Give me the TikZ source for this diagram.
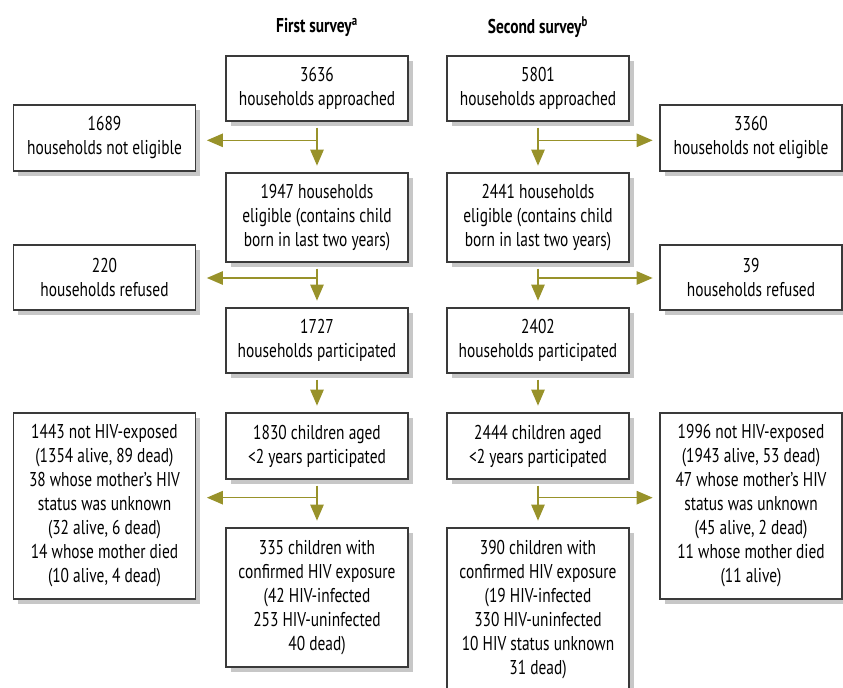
\documentclass[tikz,border=0pt]{standalone}
\usepackage{fontspec}
\setmainfont{PT Sans}[FakeStretch=0.77]
\usepackage{tikz}
\usetikzlibrary{arrows.meta,shadows}
\usepackage{xcolor}
\definecolor{olive}{RGB}{152,146,42}
\definecolor{boxline}{RGB}{58,58,58}

\begin{document}
\begin{tikzpicture}[x=0.75pt,y=-0.75pt,
  box/.style={draw=boxline,line width=1pt,fill=white,align=center,inner sep=2pt,
    minimum width=136.5pt,font=\fontsize{15}{18}\selectfont,
    drop shadow={shadow xshift=3.5pt,shadow yshift=-3.5pt,fill=black!22,opacity=1}},
  down/.style={draw=olive,line width=1.2pt,-{Triangle[length=12pt,width=10pt]},shorten <=4.5pt,shorten >=5pt},
  side/.style={draw=olive,line width=1.2pt,-{Triangle[length=12pt,width=10pt]}},
  head/.style={font=\bfseries\fontsize{15}{16}\selectfont}]
\useasboundingbox (0,0) rectangle (843,688);
% headers
\node[head] (h1) at (317,27) {First survey\textsuperscript{a}};
\node[head] (h2) at (538,27) {Second survey\textsuperscript{b}};
% first survey
\node[box,minimum height=48.75pt] (A1) at (317,88.5) {3636\\households approached};
\node[box,minimum height=49.5pt] (N1) at (104.5,138) {1689\\households not eligible};
\node[box,minimum height=66.75pt] (B1) at (317,217.5) {1947 households\\eligible (contains child\\born in last two years)};
\node[box,minimum height=48.75pt] (R1) at (104.5,277.5) {220\\households refused};
\node[box,minimum height=48.75pt] (C1) at (317,340.5) {1727\\households participated};
\node[box,minimum height=49.5pt] (D1) at (317,446) {1830 children aged\\<2 years participated};
\node[box,minimum height=139.5pt] (X1) at (104.5,506) {1443 not HIV-exposed\\(1354 alive, 89 dead)\\38 whose mother’s HIV\\status was unknown\\(32 alive, 6 dead)\\14 whose mother died\\(10 alive, 4 dead)};
\node[box,minimum height=104.25pt] (E1) at (317,597.5) {335 children with\\confirmed HIV exposure\\(42 HIV-infected\\253 HIV-uninfected\\40 dead)};
% second survey
\node[box,minimum height=48.75pt] (A2) at (538,88.5) {5801\\households approached};
\node[box,minimum height=49.5pt] (N2) at (751,138) {3360\\households not eligible};
\node[box,minimum height=66.75pt] (B2) at (538,217.5) {2441 households\\eligible (contains child\\born in last two years)};
\node[box,minimum height=48.75pt] (R2) at (751,277.5) {39\\households refused};
\node[box,minimum height=48.75pt] (C2) at (538,340.5) {2402\\households participated};
\node[box,minimum height=49.5pt] (D2) at (538,446) {2444 children aged\\<2 years participated};
\node[box,minimum height=139.5pt] (X2) at (751,506) {1996 not HIV-exposed\\(1943 alive, 53 dead)\\47 whose mother’s HIV\\status was unknown\\(45 alive, 2 dead)\\11 whose mother died\\(11 alive)};
\node[box,minimum height=122.25pt] (E2) at (538,609.5) {390 children with\\confirmed HIV exposure\\(19 HIV-infected\\330 HIV-uninfected\\10 HIV status unknown\\31 dead)};
% arrows, first survey
\draw[down] (A1) -- (B1);
\draw[down] (B1) -- (C1);
\draw[down] (C1) -- (D1);
\draw[down] (D1) -- (E1);
\draw[side,shorten >=8pt] ([yshift=-14pt]A1.south) -- ([yshift=-14pt]A1.south -| N1.east);
\draw[side,shorten >=8pt] ([yshift=-11.5pt]B1.south) -- ([yshift=-11.5pt]B1.south -| R1.east);
\draw[side,shorten >=8pt] ([yshift=-13.5pt]D1.south) -- ([yshift=-13.5pt]D1.south -| X1.east);
% arrows, second survey
\draw[down] (A2) -- (B2);
\draw[down] (B2) -- (C2);
\draw[down] (C2) -- (D2);
\draw[down] (D2) -- (E2);
\draw[side,shorten >=5pt] ([yshift=-14pt]A2.south) -- ([yshift=-14pt]A2.south -| N2.west);
\draw[side,shorten >=5pt] ([yshift=-11.5pt]B2.south) -- ([yshift=-11.5pt]B2.south -| R2.west);
\draw[side,shorten >=5pt] ([yshift=-13.5pt]D2.south) -- ([yshift=-13.5pt]D2.south -| X2.west);
\end{tikzpicture}
\end{document}
